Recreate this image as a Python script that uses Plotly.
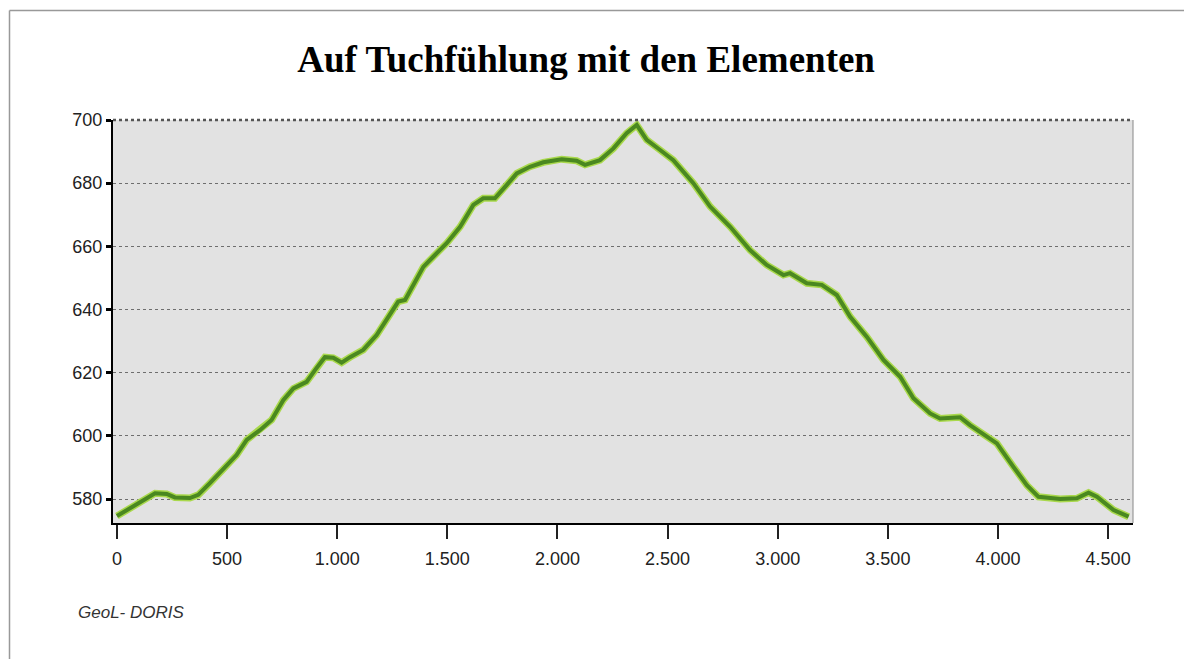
import plotly.graph_objects as go

# distance (m) and elevation (m) read from the profile
distance = [0, 59, 120, 173, 226, 263, 331, 369, 422, 483, 543, 589, 649, 702, 755, 801,
            861, 899, 944, 982, 1020, 1058, 1118, 1179, 1240, 1277, 1308, 1391, 1436, 1497,
            1558, 1618, 1663, 1716, 1769, 1815, 1875, 1936, 2019, 2087, 2125, 2193, 2254,
            2314, 2360, 2405, 2466, 2526, 2617, 2693, 2784, 2874, 2950, 3026, 3056, 3132,
            3200, 3268, 3329, 3404, 3480, 3556, 3616, 3692, 3737, 3828, 3873, 3995, 4070,
            4131, 4184, 4282, 4358, 4411, 4449, 4525, 4593]
elevation = [574.6, 577.0, 579.7, 581.8, 581.6, 580.5, 580.3, 581.3, 585.0, 589.7, 593.9,
             598.7, 601.8, 605.0, 611.3, 615.0, 617.1, 620.8, 624.9, 624.7, 623.2, 624.9,
             627.2, 631.9, 638.8, 642.5, 643.0, 653.5, 656.7, 661.0, 666.2, 673.1, 675.2,
             675.2, 679.4, 683.1, 685.2, 686.6, 687.6, 687.1, 685.8, 687.3, 691.0, 695.8,
             698.4, 693.7, 690.5, 687.3, 680.0, 672.6, 666.2, 658.8, 654.1, 650.9, 651.5,
             648.3, 647.8, 644.6, 637.7, 631.4, 624.0, 618.7, 611.9, 607.1, 605.5, 605.9,
             603.4, 597.6, 590.2, 584.4, 580.7, 580.0, 580.2, 582.0, 580.7, 576.5, 574.4]

x_tickvals = [0, 500, 1000, 1500, 2000, 2500, 3000, 3500, 4000, 4500]
x_ticktext = ["0", "500", "1.000", "1.500", "2.000", "2.500", "3.000", "3.500", "4.000", "4.500"]
y_tickvals = [580, 600, 620, 640, 660, 680, 700]
y_ticktext = ["580", "600", "620", "640", "660", "680", "700"]

title_text = "Auf Tuchfühlung mit den Elementen"
source_text = "GeoL- DORIS"

tick_font = dict(family="Liberation Sans Narrow, Arial Narrow, Liberation Sans, Arial",
                 size=18, color="#222")

fig = go.Figure()
fig.add_trace(go.Scatter(x=distance, y=elevation, mode="lines",
                         line=dict(color="#a9d84c", width=7), hoverinfo="skip"))
fig.add_trace(go.Scatter(x=distance, y=elevation, mode="lines",
                         line=dict(color="#4a8820", width=4)))

fig.update_layout(
    width=1184, height=659,
    margin=dict(l=113, r=51, t=120, b=136),
    paper_bgcolor="white",
    plot_bgcolor="#e2e2e2",
    showlegend=False,
    title=dict(text="<b>" + title_text + "</b>", x=0.495, xanchor="center",
               y=1 - 59 / 659, yanchor="middle", yref="container",
               font=dict(family="Liberation Serif, Times New Roman, serif", size=37, color="black")),
    xaxis=dict(range=[-18, 4613], tickvals=x_tickvals, ticktext=x_ticktext,
               showgrid=False, zeroline=False,
               showline=True, linecolor="black", linewidth=2,
               ticks="outside", ticklen=14, tickwidth=1.5, tickcolor="#222",
               ticklabelstandoff=4,
               tickfont=tick_font),
    yaxis=dict(range=[572.4, 700], tickvals=y_tickvals, ticktext=y_ticktext,
               showgrid=True, gridcolor="#6e6e6e", griddash="dot", gridwidth=1,
               zeroline=False,
               showline=True, linecolor="black", linewidth=2,
               ticks="outside", ticklen=5, tickwidth=2.5, tickcolor="black",
               tickfont=tick_font),
    annotations=[dict(text="<i>" + source_text + "</i>", xref="paper", yref="paper",
                      x=(76 - 113) / 1020, y=(523 - 612) / 403,
                      xanchor="left", yanchor="middle", showarrow=False,
                      font=dict(family="Liberation Sans, Arial", size=17, color="#333"))],
    shapes=[
        # top border of plot (double dotted look)
        dict(type="line", xref="paper", yref="paper", x0=0, x1=1, y0=1, y1=1,
             line=dict(color="#555", width=2.5, dash="dot")),
        # right border of plot
        dict(type="line", xref="paper", yref="paper", x0=1, x1=1, y0=0, y1=1,
             line=dict(color="#888", width=1)),
        # outer frame
        dict(type="line", xref="paper", yref="paper",
             x0=(9.5 - 113) / 1020, x1=(1200 - 113) / 1020,
             y0=(523 - 10.5) / 403, y1=(523 - 10.5) / 403,
             line=dict(color="#999", width=1.5)),
        dict(type="line", xref="paper", yref="paper",
             x0=(9.5 - 113) / 1020, x1=(9.5 - 113) / 1020,
             y0=(523 - 10.5) / 403, y1=(523 - 680) / 403,
             line=dict(color="#999", width=1.5)),
    ],
)

fig.write_html("out.html", config={"displayModeBar": False},
               post_script="document.body.style.margin='0';document.body.style.overflow='hidden';")
